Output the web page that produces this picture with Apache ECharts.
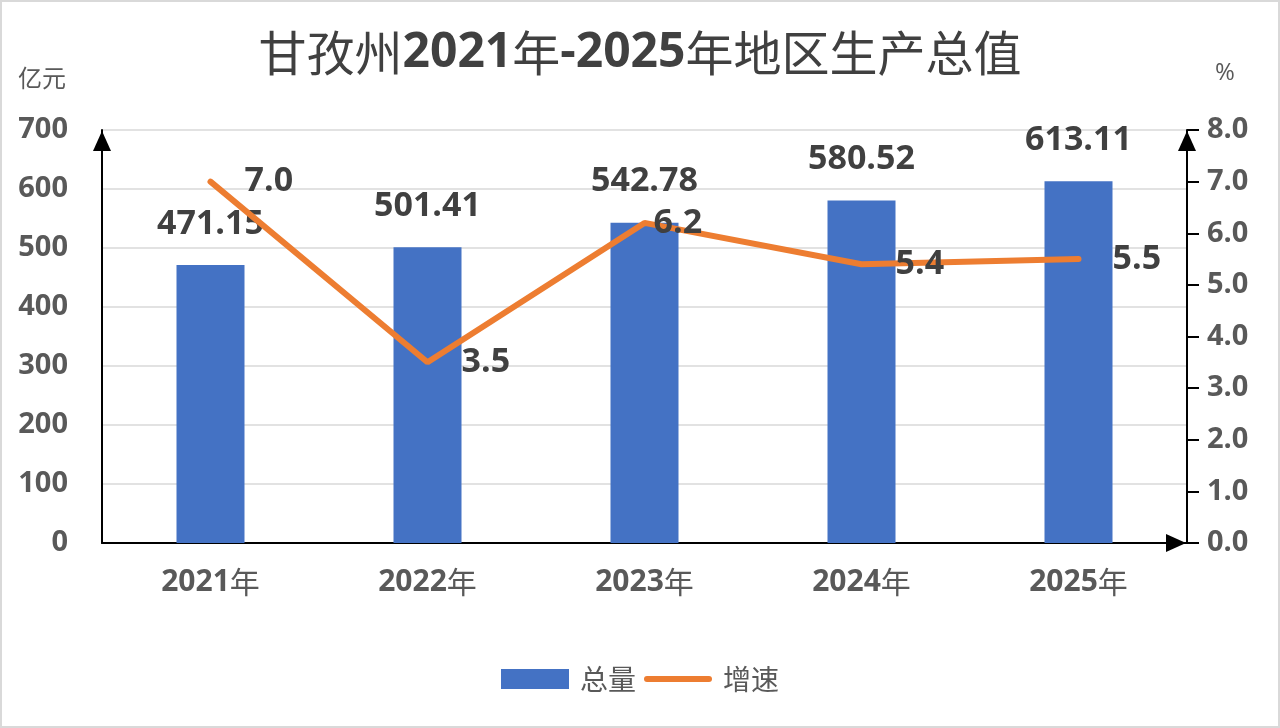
<!DOCTYPE html>
<html>
<head>
    <meta charset="utf-8">
    <title>甘孜州地区生产总值</title>
    <script src="https://cdn.jsdelivr.net/npm/echarts@6/dist/echarts.min.js"></script>
    <style>
        html, body { margin: 0; padding: 0; background: #fff; }
        #main { width: 1280px; height: 728px; }
    </style>
</head>
<body>
    <div id="main"></div>
    <script>
        // 数据
        var years = ['2021年', '2022年', '2023年', '2024年', '2025年'];
        var totals = [471.15, 501.41, 542.78, 580.52, 613.11];
        var growth = [7.0, 3.5, 6.2, 5.4, 5.5];
        var leftTicks = [0, 700, 100];   // min, max, interval
        var rightTicks = [0, 8, 1];

        var FONT = "'Open Sans', 'Noto Sans CJK SC', sans-serif";
        var CJK = "'Noto Sans CJK SC', sans-serif";

        var myChart = echarts.init(document.getElementById('main'));

        // 增速标签：2023年那个离点近一点
        var growthData = growth.map(function (v, i) {
            return {
                value: v,
                label: { distance: i === 2 ? 8 : 33 }
            };
        });

        // x轴标签：数字粗体，“年”常规
        function yearLabel(v) {
            return '{b|' + v.replace('年', '') + '}{a|年}';
        }

        // 轴线箭头（实心三角，尖端对准轴端）
        var arrowLine = {
            show: true,
            symbol: ['none', 'triangle'],
            symbolSize: [18, 20],
            symbolOffset: [0, -11],
            lineStyle: { color: '#000', width: 2 }
        };

        myChart.setOption({
            backgroundColor: '#ffffff',
            textStyle: { fontFamily: FONT },
            graphic: [{
                type: 'rect',
                shape: { x: 1, y: 1, width: 1278, height: 726 },
                style: { fill: 'none', stroke: '#d9d9d9', lineWidth: 2 },
                silent: true
            }],
            title: {
                text: '{a|甘孜州}{b|2021}{a|年}{b|-2025}{a|年地区生产总值}',
                left: 'center',
                top: 24,
                textStyle: {
                    rich: {
                        a: { fontSize: 48, fontWeight: 'normal', color: '#404040', fontFamily: CJK },
                        b: { fontSize: 48, fontWeight: 'bold', color: '#404040', fontFamily: FONT }
                    }
                }
            },
            legend: {
                bottom: 30,
                left: 'center',
                itemWidth: 68,
                itemHeight: 20,
                itemGap: 8,
                textStyle: { fontSize: 28, color: '#595959', fontFamily: CJK, padding: [0, 0, 0, 6] },
                data: [
                    { name: '总量', icon: 'rect' },
                    { name: '增速', icon: 'path://M3,0 L65,0 A3,3 0 0 1 65,6 L3,6 A3,3 0 0 1 3,0 Z' }
                ]
            },
            grid: {
                left: 102,
                right: 93,
                top: 130,
                bottom: 185,
                containLabel: false
            },
            xAxis: {
                type: 'category',
                data: years,
                axisLine: arrowLine,
                axisTick: { show: false },
                axisLabel: {
                    margin: 24,
                    formatter: yearLabel,
                    rich: {
                        b: { fontSize: 30, fontWeight: 'bold', color: '#595959', fontFamily: FONT },
                        a: { fontSize: 30, fontWeight: 'normal', color: '#595959', fontFamily: CJK }
                    }
                }
            },
            yAxis: [{
                type: 'value',
                name: '亿元',
                nameLocation: 'end',
                nameGap: 40,
                nameTextStyle: { fontSize: 24, color: '#595959', align: 'center', padding: [0, 0, 0, -120], fontFamily: CJK },
                min: leftTicks[0],
                max: leftTicks[1],
                interval: leftTicks[2],
                axisLine: arrowLine,
                axisTick: { show: false },
                axisLabel: {
                    fontSize: 29,
                    fontWeight: 'bold',
                    color: '#595959',
                    margin: 34
                },
                splitLine: { lineStyle: { color: '#d9d9d9', width: 1.5 } }
            }, {
                type: 'value',
                name: '%',
                nameLocation: 'end',
                nameGap: 45,
                nameTextStyle: { fontSize: 24, color: '#595959', align: 'center', padding: [0, 0, 0, 76] },
                min: rightTicks[0],
                max: rightTicks[1],
                interval: rightTicks[2],
                axisLine: arrowLine,
                axisTick: { show: true, length: 12, lineStyle: { color: '#000', width: 2 } },
                axisLabel: {
                    fontSize: 29,
                    fontWeight: 'bold',
                    color: '#595959',
                    margin: 20,
                    formatter: function (v) { return v.toFixed(1); }
                },
                splitLine: { show: false }
            }],
            series: [{
                name: '总量',
                type: 'bar',
                barWidth: 68,
                itemStyle: { color: '#4472C4' },
                label: {
                    show: true,
                    position: 'top',
                    distance: 24,
                    fontSize: 34,
                    fontWeight: 'bold',
                    color: '#404040',
                    formatter: function (p) { return p.value.toFixed(2); }
                },
                data: totals
            }, {
                name: '增速',
                type: 'line',
                yAxisIndex: 1,
                symbol: 'circle',
                symbolSize: 2,
                showSymbol: true,
                lineStyle: { color: '#ED7D31', width: 6, cap: 'round' },
                itemStyle: { color: '#ED7D31' },
                label: {
                    show: true,
                    position: 'right',
                    fontSize: 34,
                    fontWeight: 'bold',
                    color: '#404040',
                    formatter: function (p) { return p.value.toFixed(1); }
                },
                data: growthData
            }]
        });
    </script>
</body>
</html>
